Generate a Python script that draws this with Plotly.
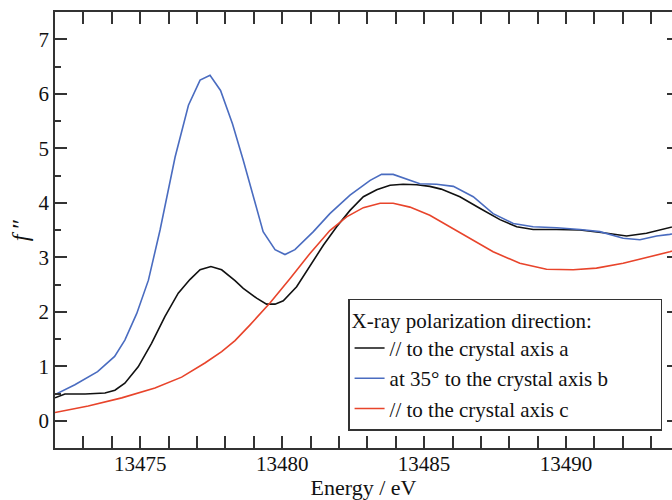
import plotly.graph_objects as go

# Energy (eV) and f'' values
energy_a = [13472.0, 13472.35, 13473.06, 13473.76, 13474.11, 13474.46, 13474.93, 13475.4,
            13475.87, 13476.34, 13476.75, 13477.11, 13477.49, 13477.87, 13478.34, 13478.63,
            13479.1, 13479.45, 13479.75, 13480.04, 13480.51, 13480.98, 13481.45, 13481.92,
            13482.39, 13482.86, 13483.33, 13483.8, 13484.26, 13484.74, 13485.2, 13485.6,
            13486.26, 13486.96, 13487.67, 13488.26, 13488.84, 13489.67, 13490.49, 13491.31,
            13492.13, 13492.83, 13493.65, 13494.0]
f_a = [0.42, 0.49, 0.49, 0.51, 0.56, 0.69, 0.99, 1.42,
       1.91, 2.34, 2.59, 2.77, 2.83, 2.77, 2.57, 2.43,
       2.25, 2.14, 2.14, 2.20, 2.46, 2.83, 3.22, 3.56,
       3.86, 4.11, 4.24, 4.32, 4.34, 4.33, 4.30, 4.25,
       4.11, 3.90, 3.69, 3.56, 3.51, 3.51, 3.50, 3.45,
       3.39, 3.44, 3.55, 3.59]

energy_b = [13472.0, 13472.7, 13473.5, 13474.1, 13474.46, 13474.88, 13475.29, 13475.7,
            13476.23, 13476.7, 13477.11, 13477.46, 13477.83, 13478.25, 13478.63, 13478.98,
            13479.33, 13479.75, 13480.1, 13480.45, 13481.1, 13481.68, 13482.39, 13483.1,
            13483.5, 13483.91, 13484.38, 13484.85, 13485.44, 13486.03, 13486.73, 13487.43,
            13488.14, 13488.84, 13489.67, 13490.49, 13491.19, 13492.01, 13492.6, 13493.19,
            13493.65, 13494.0]
f_b = [0.48, 0.66, 0.90, 1.18, 1.48, 1.97, 2.58, 3.50,
       4.84, 5.79, 6.25, 6.34, 6.06, 5.45, 4.78, 4.11,
       3.47, 3.14, 3.05, 3.14, 3.47, 3.80, 4.14, 4.41,
       4.52, 4.52, 4.43, 4.35, 4.34, 4.30, 4.11, 3.80,
       3.62, 3.56, 3.54, 3.51, 3.47, 3.35, 3.32, 3.39,
       3.42, 3.45]

energy_c = [13472.0, 13473.17, 13474.35, 13475.52, 13476.46, 13477.28, 13477.87, 13478.34,
            13478.87, 13479.57, 13480.28, 13480.98, 13481.68, 13482.27, 13482.86, 13483.45,
            13483.91, 13484.5, 13485.2, 13485.7, 13486.5, 13487.43, 13488.37, 13489.31,
            13490.25, 13491.07, 13492.01, 13492.83, 13493.65, 13494.0]
f_c = [0.15, 0.27, 0.42, 0.60, 0.80, 1.06, 1.27, 1.47,
       1.76, 2.16, 2.61, 3.07, 3.49, 3.74, 3.91, 3.99,
       3.99, 3.92, 3.77, 3.62, 3.38, 3.10, 2.89, 2.78,
       2.77, 2.80, 2.89, 2.99, 3.10, 3.15]

series_names = ["// to the crystal axis a",
                "at 35° to the crystal axis b" + "\u00a0" * 9,
                "// to the crystal axis c"]
series_colors = ["#111111", "#4a6cc0", "#e8442b"]
legend_title = "X-ray polarization direction:"

x_range = [13472.0, 13493.73]
y_range = [-0.5, 7.5]
x_ticks = [13475, 13480, 13485, 13490]
y_ticks = [0, 1, 2, 3, 4, 5, 6, 7]

FONT = "Liberation Serif, serif"
AXC = "#333333"

fig = go.Figure()
for xs, ys, name, col in zip([energy_a, energy_b, energy_c], [f_a, f_b, f_c],
                             series_names, series_colors):
    fig.add_trace(go.Scatter(x=xs, y=ys, mode="lines", name=name,
                             line=dict(color=col, width=1.6)))

# invisible trace to carry right-side short ticks
fig.add_trace(go.Scatter(x=[x_range[0]], y=[0], yaxis="y2", mode="markers",
                         marker=dict(opacity=0), showlegend=False, hoverinfo="skip"))

fig.update_layout(
    width=672, height=500,
    margin=dict(l=55, r=0, t=12, b=52),
    paper_bgcolor="white", plot_bgcolor="white",
    font=dict(family=FONT, size=21, color="#111111"),
    showlegend=True,
    legend=dict(
        x=0.475, y=0.039, xanchor="left", yanchor="bottom",
        bgcolor="white", bordercolor=AXC, borderwidth=1.5,
        font=dict(family=FONT, size=21, color="#111111"),
        title=dict(text=legend_title, font=dict(family=FONT, size=21, color="#111111")),
        itemwidth=30,
        tracegroupgap=0,
    ),
    xaxis=dict(
        range=x_range, tickvals=x_ticks, ticktext=[str(t) for t in x_ticks],
        showgrid=False, zeroline=False,
        showline=True, linecolor=AXC, linewidth=1.5, mirror="allticks",
        ticks="inside", ticklen=12, tickwidth=1.5, tickcolor=AXC,
        minor=dict(dtick=1, ticks="inside", ticklen=6, tickwidth=1.5, tickcolor=AXC),
        tickfont=dict(family=FONT, size=21, color="#111111"),
        ticklabelstandoff=-4,
        title=dict(text="Energy / eV", font=dict(family=FONT, size=22), standoff=2),
    ),
    yaxis=dict(
        range=y_range, tickvals=y_ticks, ticktext=[str(t) for t in y_ticks],
        showgrid=False, zeroline=False,
        showline=True, linecolor=AXC, linewidth=1.5, mirror=False,
        ticks="inside", ticklen=12, tickwidth=1.5, tickcolor=AXC,
        minor=dict(dtick=0.5, ticks="inside", ticklen=6, tickwidth=1.5, tickcolor=AXC),
        tickfont=dict(family=FONT, size=21, color="#111111"),
        title=dict(text="<i>f</i> ″", font=dict(family=FONT, size=24), standoff=3),
    ),
    yaxis2=dict(
        range=y_range, tickvals=y_ticks, overlaying="y", side="right",
        showgrid=False, zeroline=False, showline=False, showticklabels=False,
        ticks="inside", ticklen=5, tickwidth=1.5, tickcolor=AXC,
    ),
)

fig.write_html("out.html")
